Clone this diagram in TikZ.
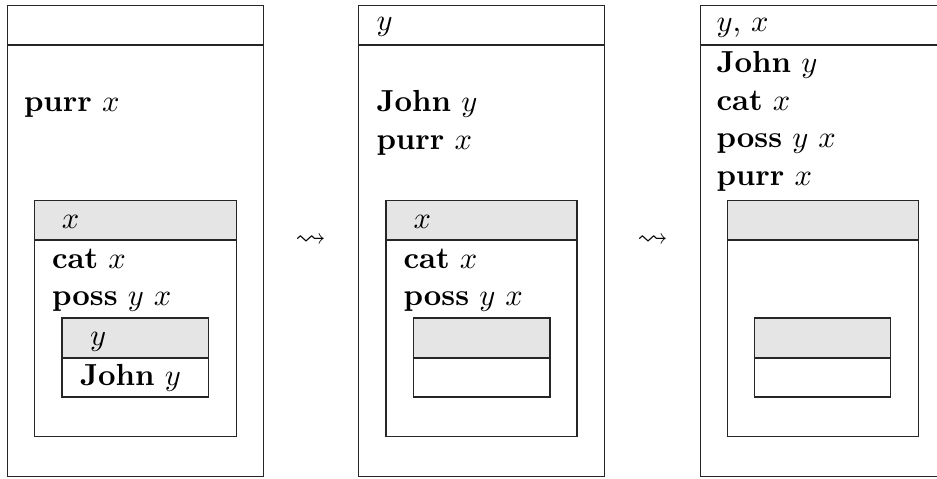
\documentclass[tikz,border=0pt]{standalone}
\usepackage{amssymb}
\begin{document}
\begin{tikzpicture}[x=0.328pt,y=-0.328pt,
  frame/.style={draw=black!85,line width=0.45pt},
  hdr/.style={draw=black!85,line width=0.45pt,fill=gray!20},
  txt/.style={anchor=base west,inner sep=0pt,outer sep=0pt},
  arr/.style={inner sep=0pt,outer sep=0pt}]
\clip (0,0) rectangle (937,478);
% ---------- box 1
\draw[frame] (7.5,5.5) rectangle (263.5,476.5);
\draw[frame] (7.5,45) -- (263.5,45);
\node[txt] (b1purr) at (24,111.5) {\textbf{purr} $x$};
\draw[hdr] (34.5,200.5) rectangle (236.5,240);
\draw[frame] (34.5,240) rectangle (236.5,436.5);
\node[txt] (b1hx) at (62,228) {$x$};
\node[txt] (b1cat) at (52,268) {\textbf{cat} $x$};
\node[txt] (b1poss) at (52,305.5) {\textbf{poss} $y$ $x$};
\draw[hdr] (62,318) rectangle (208.5,358);
\draw[frame] (62,358) rectangle (208.5,397);
\node[txt] (b1hy) at (90,345) {$y$};
\node[txt] (b1john) at (80,385) {\textbf{John} $y$};
% ---------- arrow 1
\node[arr] (a1) at (310.5,240.5) {$\leadsto$};
% ---------- box 2
\draw[frame] (358.5,5.5) rectangle (604.5,476.5);
\draw[frame] (358.5,45) -- (604.5,45);
\node[txt] (b2hy) at (376.5,31) {$y$};
\node[txt] (b2john) at (376.5,111.5) {\textbf{John} $y$};
\node[txt] (b2purr) at (376.5,149.3) {\textbf{purr} $x$};
\draw[hdr] (386,200.5) rectangle (577,240);
\draw[frame] (386,240) rectangle (577,436.5);
\node[txt] (b2hx) at (413.5,228) {$x$};
\node[txt] (b2cat) at (403.5,268) {\textbf{cat} $x$};
\node[txt] (b2poss) at (403.5,305.5) {\textbf{poss} $y$ $x$};
\draw[hdr] (413.5,318) rectangle (550,358);
\draw[frame] (413.5,358) rectangle (550,397);
% ---------- arrow 2
\node[arr] (a2) at (652.5,240.5) {$\leadsto$};
% ---------- box 3
\draw[frame] (700.5,5.5) rectangle (946.5,476.5);
\draw[frame] (700.5,45) -- (946.5,45);
\node[txt] (b3h) at (716.5,31.5) {$y$, $x$};
\node[txt] (b3john) at (716.5,72.7) {\textbf{John} $y$};
\node[txt] (b3cat) at (716.5,110.3) {\textbf{cat} $x$};
\node[txt] (b3poss) at (716.5,147.8) {\textbf{poss} $y$ $x$};
\node[txt] (b3purr) at (716.5,185.3) {\textbf{purr} $x$};
\draw[hdr] (727.5,200.5) rectangle (918.5,240);
\draw[frame] (727.5,240) rectangle (918.5,436.5);
\draw[hdr] (754.5,318) rectangle (890.5,358);
\draw[frame] (754.5,358) rectangle (890.5,397);
\end{tikzpicture}
\end{document}
